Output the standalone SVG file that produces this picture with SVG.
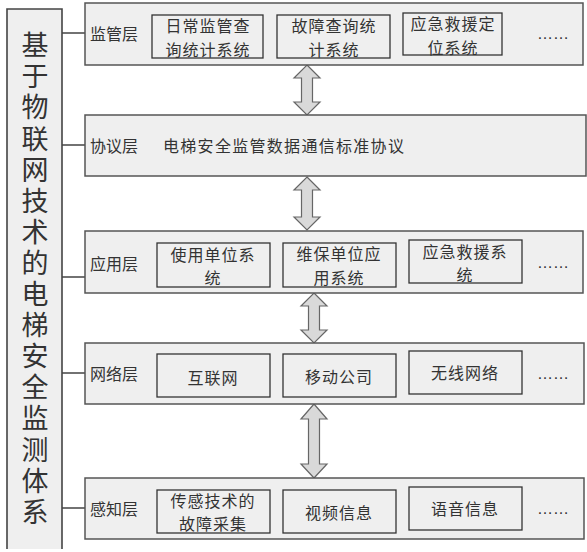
<svg xmlns="http://www.w3.org/2000/svg" width="587" height="552" viewBox="0 0 587 552">
<style>
text{font-family:"Noto Sans CJK SC","Noto Sans",sans-serif;fill:#333;dominant-baseline:central}
.layer{fill:#efefef;stroke:#555;stroke-width:1.5}
.box{fill:#efefef;stroke:#333;stroke-width:1.3}
.lbl{font-size:16px}
.t{font-size:16px;text-anchor:middle;letter-spacing:1px}
.dots{font-family:"Liberation Sans",sans-serif;font-size:16px}
.conn{stroke:#444;stroke-width:1.3;fill:none}
.arrow{fill:#d9d9d9;stroke:#666;stroke-width:1.2}
.vt{font-size:27px;writing-mode:vertical-rl;letter-spacing:4.1px}
</style>
<rect width="587" height="552" fill="#fff"/>
<g id="title">
<rect x="7" y="9" width="55" height="540" fill="#efefef"/>
<path d="M7,549 V9 H62 V549" fill="none" stroke="#444" stroke-width="1.6"/>
<text class="vt" x="35" y="31.5">基于物联网技术的电梯安全监测体系</text>
</g>
<g id="connectors">
<path class="conn" d="M62,33 H85 M62,145 H85 M62,277 H85 M62,373 H85 M62,508 H85"/>
<path class="arrow" d="M307,65 L320,78 L312.5,78 L312.5,102 L320,102 L307,115 L294,102 L301.5,102 L301.5,78 L294,78 Z"/>
<path class="arrow" d="M307,177 L320,190 L312.5,190 L312.5,217 L320,217 L307,230 L294,217 L301.5,217 L301.5,190 L294,190 Z"/>
<path class="arrow" d="M314,293 L327,306 L319.5,306 L319.5,330 L327,330 L314,343 L301,330 L308.5,330 L308.5,306 L301,306 Z"/>
<path class="arrow" d="M314,404 L327,419 L319.5,419 L319.5,464 L327,464 L314,478 L301,464 L308.5,464 L308.5,419 L301,419 Z"/>
</g>
<g id="layer-supervision">
<rect class="layer" x="85" y="3" width="498" height="62"/>
<text class="lbl" x="90" y="33">监管层</text>
<rect class="box" x="152" y="15" width="111" height="43"/>
<text class="t" x="208" y="25">日常监管查</text>
<text class="t" x="208" y="49">询统计系统</text>
<rect class="box" x="277" y="15" width="113" height="43"/>
<text class="t" x="334" y="25">故障查询统</text>
<text class="t" x="334" y="49">计系统</text>
<rect class="box" x="403" y="13" width="99" height="42"/>
<text class="t" x="453" y="23">应急救援定</text>
<text class="t" x="453" y="47">位系统</text>
<text class="dots" x="537" y="33">……</text>
</g>
<g id="layer-protocol">
<rect class="layer" x="85" y="115" width="501" height="61"/>
<text class="lbl" x="90" y="145">协议层</text>
<text class="lbl" x="163" y="145" letter-spacing="1.3">电梯安全监管数据通信标准协议</text>
</g>
<g id="layer-application">
<rect class="layer" x="85" y="231" width="498" height="62"/>
<text class="lbl" x="90" y="263">应用层</text>
<rect class="box" x="157" y="243" width="113" height="44"/>
<text class="t" x="213" y="254">使用单位系</text>
<text class="t" x="213" y="277">统</text>
<rect class="box" x="283" y="243" width="113" height="44"/>
<text class="t" x="339" y="253">维保单位应</text>
<text class="t" x="339" y="277">用系统</text>
<rect class="box" x="409" y="240" width="113" height="43"/>
<text class="t" x="465" y="251">应急救援系</text>
<text class="t" x="465" y="274">统</text>
<text class="dots" x="537" y="262">……</text>
</g>
<g id="layer-network">
<rect class="layer" x="85" y="343" width="499" height="61"/>
<text class="lbl" x="90" y="373">网络层</text>
<rect class="box" x="157" y="354" width="113" height="43"/>
<text class="t" x="213" y="377">互联网</text>
<rect class="box" x="283" y="354" width="113" height="43"/>
<text class="t" x="339" y="376">移动公司</text>
<rect class="box" x="409" y="351" width="113" height="43"/>
<text class="t" x="465" y="372">无线网络</text>
<text class="dots" x="537" y="373">……</text>
</g>
<g id="layer-perception">
<rect class="layer" x="85" y="478" width="499" height="61"/>
<text class="lbl" x="90" y="508">感知层</text>
<rect class="box" x="157" y="490" width="113" height="43"/>
<text class="t" x="213" y="500">传感技术的</text>
<text class="t" x="213" y="523">故障采集</text>
<rect class="box" x="283" y="490" width="113" height="43"/>
<text class="t" x="339" y="512">视频信息</text>
<rect class="box" x="409" y="487" width="113" height="43"/>
<text class="t" x="465" y="508">语音信息</text>
<text class="dots" x="537" y="508">……</text>
</g>
</svg>
